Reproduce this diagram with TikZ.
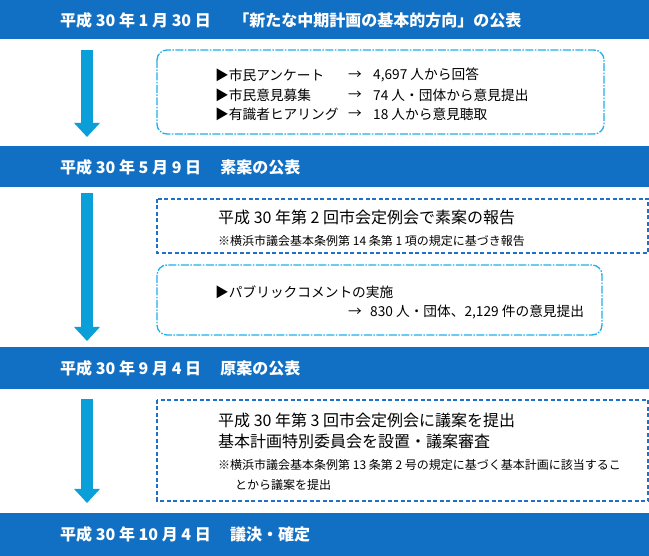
\documentclass[tikz,border=0pt]{standalone}
\usepackage{fontspec}
\setmainfont{Noto Sans CJK JP}
\usetikzlibrary{arrows.meta}
\definecolor{bandblue}{HTML}{1270C4}
\definecolor{arrowblue}{HTML}{0A9FD9}
\definecolor{lightline}{HTML}{1EAEEA}
\definecolor{darkline}{HTML}{2070C8}
\tikzset{
  bandbox/.style={fill=bandblue, draw=none, anchor=north west, minimum width=649pt, inner sep=0pt},
  bandtext/.style={text=white, font=\fontsize{16}{19}\selectfont\bfseries, anchor=west, inner sep=0pt},
  roundbox/.style={draw=lightline, line width=1.3pt, rounded corners=10pt, dash pattern=on 8pt off 1.5pt on 1.5pt off 1.5pt},
  squarebox/.style={draw=darkline, line width=1.3pt, dash pattern=on 4pt off 2.5pt},
  itemtext/.style={font=\fontsize{13.7}{16}\selectfont, anchor=west, inner sep=0pt},
  maintext/.style={font=\fontsize{16}{19}\selectfont, anchor=west, inner sep=0pt},
  notetext/.style={font=\fontsize{12}{14}\selectfont, anchor=west, inner sep=0pt},
  blockarrow/.style={draw=arrowblue, line width=12pt, -{Triangle[width=25pt,length=14pt]}}
}
\begin{document}
\begin{tikzpicture}[x=1pt,y=-1pt]
\useasboundingbox (0,0) rectangle (649,556);
% bands
\node[bandbox, minimum height=39pt] (b1) at (0,0) {};
\node[bandtext] (t1) at (60,20) {平成 30 年 1 月 30 日\hspace{1.4em}「新たな中期計画の基本的方向」の公表};
\node[bandbox, minimum height=41pt] (b2) at (0,146) {};
\node[bandtext] (t2) at (60,167) {平成 30 年 5 月 9 日\hspace{1.2em}素案の公表};
\node[bandbox, minimum height=42pt] (b3) at (0,347) {};
\node[bandtext] (t3) at (60,368) {平成 30 年 9 月 4 日\hspace{1.2em}原案の公表};
\node[bandbox, minimum height=43pt] (b4) at (0,513) {};
\node[bandtext] (t4) at (60,534) {平成 30 年 10 月 4 日\hspace{1.2em}議決・確定};
% arrows
\coordinate (a1s) at (87,50);  \coordinate (a1e) at (87,137);
\coordinate (a2s) at (87,193); \coordinate (a2e) at (87,341);
\coordinate (a3s) at (87,399); \coordinate (a3e) at (87,503);
\draw[blockarrow] (a1s) -- (a1e);
\draw[blockarrow] (a2s) -- (a2e);
\draw[blockarrow] (a3s) -- (a3e);
% box 1
\draw[roundbox] (157,50) rectangle (604,134);
\node[itemtext] (l1a) at (215,75) {▶市民アンケート};
\node[itemtext] (l1b) at (348,75) {→};
\node[itemtext] (l1c) at (373,75) {4,697 人から回答};
\node[itemtext] (l2a) at (215,95) {▶市民意見募集};
\node[itemtext] (l2b) at (348,95) {→};
\node[itemtext] (l2c) at (373,95) {74 人・団体から意見提出};
\node[itemtext] (l3a) at (215,114) {▶有識者ヒアリング};
\node[itemtext] (l3b) at (348,114) {→};
\node[itemtext] (l3c) at (373,114) {18 人から意見聴取};
% box 2
\draw[squarebox] (157,199) rectangle (648,253);
\node[maintext] (m2a) at (218,217) {平成 30 年第 2 回市会定例会で素案の報告};
\node[notetext] (m2b) at (218,241) {※横浜市議会基本条例第 14 条第 1 項の規定に基づき報告};
% box 3
\draw[roundbox] (157,265) rectangle (602,335);
\node[itemtext] (p1) at (215,292) {▶パブリックコメントの実施};
\node[itemtext] (p2) at (348,312) {→};
\node[itemtext] (p3) at (370,312) {830 人・団体、2,129 件の意見提出};
% box 4
\draw[squarebox] (157,400) rectangle (648,501);
\node[maintext] (q1) at (218,420) {平成 30 年第 3 回市会定例会に議案を提出};
\node[maintext] (q2) at (218,441) {基本計画特別委員会を設置・議案審査};
\node[notetext] (q3) at (218,465) {※横浜市議会基本条例第 13 条第 2 号の規定に基づく基本計画に該当するこ};
\node[notetext] (q4) at (235,485) {とから議案を提出};
\end{tikzpicture}
\end{document}
